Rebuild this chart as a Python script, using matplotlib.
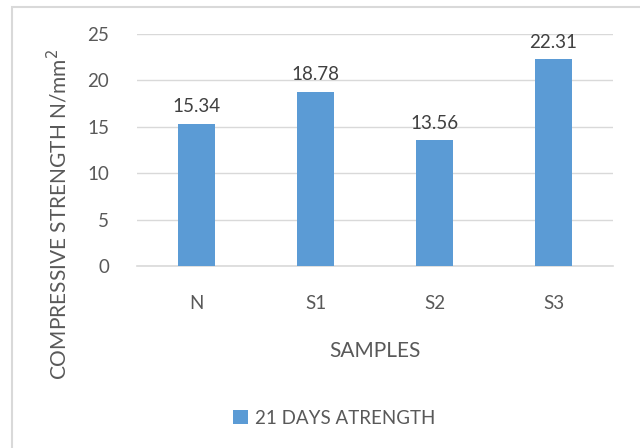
import matplotlib
matplotlib.use("Agg")
import matplotlib.pyplot as plt
from matplotlib.patches import Rectangle

categories = ["N", "S1", "S2", "S3"]
values = [15.34, 18.78, 13.56, 22.31]
series_name = "21 DAYS ATRENGTH"
yticks = [0, 5, 10, 15, 20, 25]

plt.rcParams['font.family'] = ['Lato', 'DejaVu Sans']
txt = "#595959"
W, H = 640, 448
fig = plt.figure(figsize=(6.4, 4.48), dpi=100)
ax = fig.add_axes([137/W, 1-266/H, (613-137)/W, (266-34)/H])

x = range(len(categories))
bars = ax.bar(x, values, width=0.31, color="#5B9BD5", label=series_name, zorder=3)
for xi, v in zip(x, values):
    ax.annotate(f"{v:.2f}", (xi, v), xytext=(0, 6), textcoords="offset points",
                ha="center", va="bottom", fontsize=13.5, color="#404040")

ax.set_xlim(-0.5, len(categories)-0.5)
ax.set_ylim(0, 25)
ax.set_yticks(yticks)
ax.set_xticks(list(x))
ax.set_xticklabels(categories)
ax.tick_params(axis='both', length=0, labelsize=13.5, colors=txt)
ax.tick_params(axis='y', pad=20)
ax.tick_params(axis='x', pad=21)
ax.grid(axis='y', color="#D9D9D9", linewidth=1, zorder=0)
for s in ["top", "right", "left"]:
    ax.spines[s].set_visible(False)
ax.spines["bottom"].set_color("#D9D9D9")
ax.spines["bottom"].set_linewidth(1.2)

fig.text(375/W, 1-351/H, "SAMPLES", ha="center", va="center", fontsize=15, color=txt)
fig.text(58/W, 1-214/H, "COMPRESSIVE STRENGTH N/mm$^2$", ha="center", va="center",
         rotation=90, fontsize=15, color=txt)

leg = fig.legend(handles=[bars], labels=[series_name], loc="center", bbox_to_anchor=(334/W, 1-418/H),
                 frameon=False, fontsize=13.5, handlelength=0.8, handleheight=0.8, handletextpad=0.4)
for t in leg.get_texts():
    t.set_color(txt)

fig.patches.append(Rectangle((12/W, -0.1), 1.2, 1-7/H+0.1, transform=fig.transFigure,
                             fill=False, edgecolor="#D9D9D9", linewidth=1.5))
fig.savefig("out.png", dpi=100)
